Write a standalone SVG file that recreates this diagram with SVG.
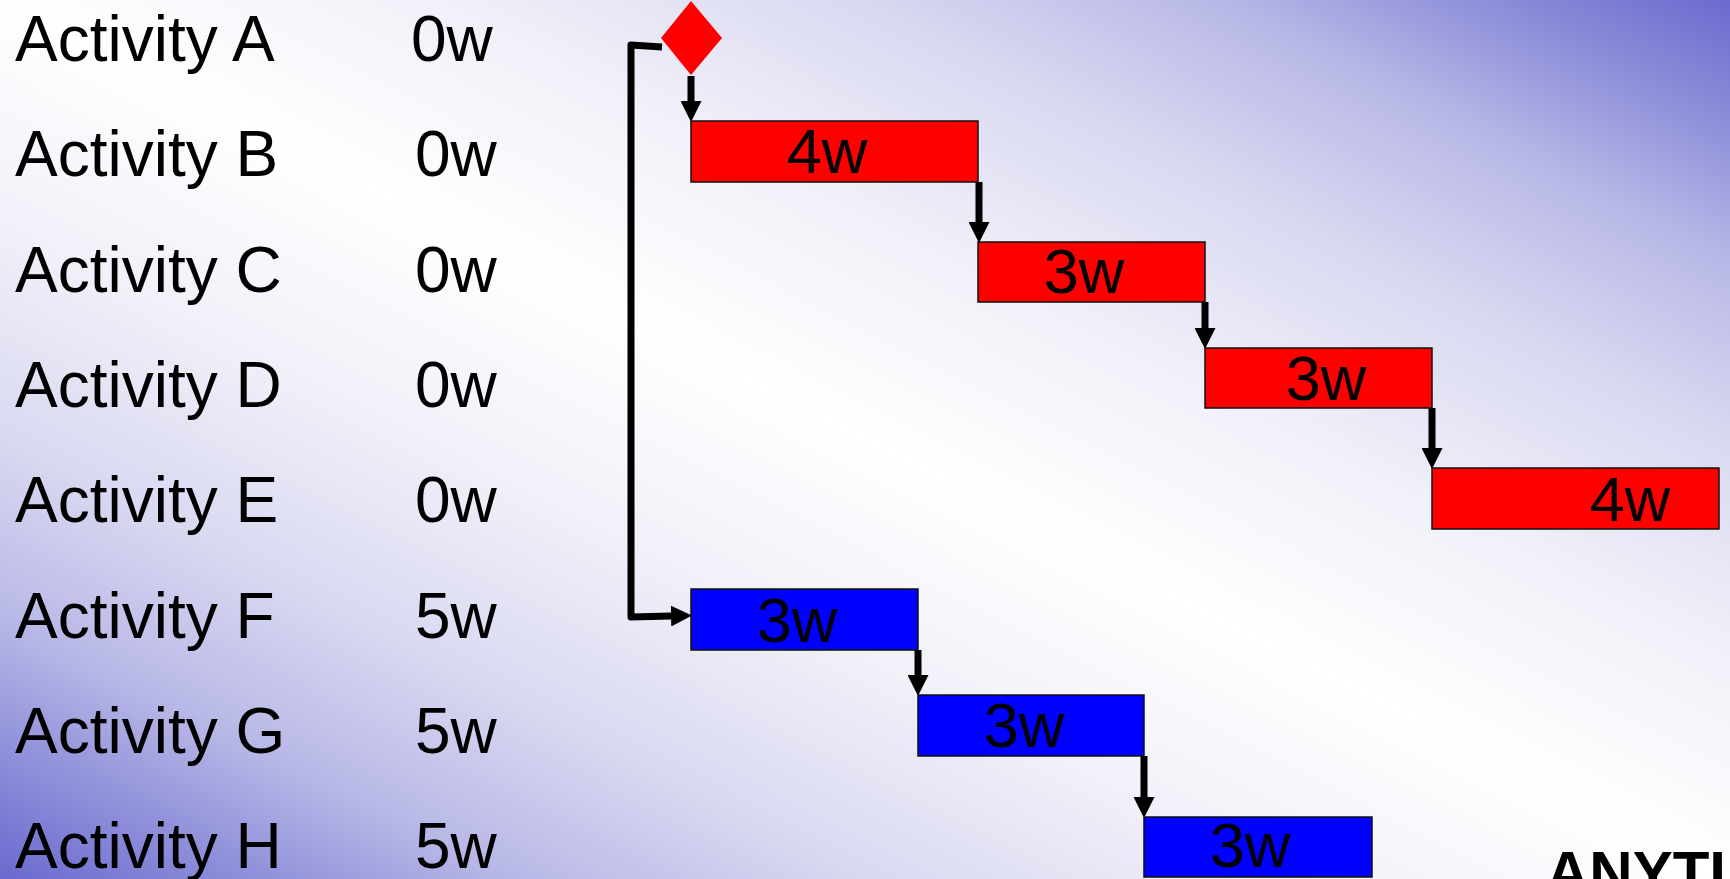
<svg xmlns="http://www.w3.org/2000/svg" width="1730" height="879" viewBox="0 0 1730 879">
  <defs>
    <!-- diagonal backdrop: blue in the top-right and bottom-left corners, white along the middle -->
    <linearGradient id="bg" x1="0" y1="1" x2="1" y2="0">
      <stop offset="0" stop-color="#6a6acf"/>
      <stop offset="0.08" stop-color="#9292db"/>
      <stop offset="0.15" stop-color="#b8b8e7"/>
      <stop offset="0.25" stop-color="#d8d8f1"/>
      <stop offset="0.37" stop-color="#f0f0f9"/>
      <stop offset="0.5" stop-color="#ffffff"/>
      <stop offset="0.63" stop-color="#f0f0f9"/>
      <stop offset="0.75" stop-color="#d8d8f1"/>
      <stop offset="0.85" stop-color="#b8b8e7"/>
      <stop offset="0.92" stop-color="#9292db"/>
      <stop offset="1" stop-color="#6a6acf"/>
    </linearGradient>
    <marker id="head" viewBox="0 0 20 20" markerWidth="21" markerHeight="21" refX="0" refY="10" orient="auto" markerUnits="userSpaceOnUse">
      <path d="M0,0 L20,10 L0,20 z" fill="#000"/>
    </marker>
    <style>
      .lbl { font-family: "Liberation Sans", Arial, sans-serif; font-size: 64px; fill: #000; }
      .bar-label { font-family: "Liberation Sans", Arial, sans-serif; font-size: 63px; fill: #000; text-anchor: middle; }
      .crit { fill: #ff0000; stroke: #111; stroke-width: 1.5; }
      .norm { fill: #0000ff; stroke: #111; stroke-width: 1.5; }
      .link { fill: none; stroke: #000; stroke-width: 7; stroke-linejoin: round; marker-end: url(#head); }
      .banner { font-family: "Liberation Sans", Arial, sans-serif; font-size: 60px; font-weight: bold; fill: #000; }
    </style>
  </defs>

  <rect x="0" y="0" width="1730" height="879" fill="url(#bg)"/>

  <!-- activity names and float -->
  <g id="labels" class="lbl">
    <text x="15" y="61">Activity A</text><text x="411" y="61">0w</text>
    <text x="15" y="176">Activity B</text><text x="415" y="176">0w</text>
    <text x="15" y="292">Activity C</text><text x="415" y="292">0w</text>
    <text x="15" y="407">Activity D</text><text x="415" y="407">0w</text>
    <text x="15" y="522">Activity E</text><text x="415" y="522">0w</text>
    <text x="15" y="638">Activity F</text><text x="415" y="638">5w</text>
    <text x="15" y="753">Activity G</text><text x="415" y="753">5w</text>
    <text x="15" y="868">Activity H</text><text x="415" y="868">5w</text>
  </g>

  <!-- dependency arrows -->
  <g id="connectors" class="link">
    <path d="M691,76 L691,101"/>
    <path d="M979,182 L979,222"/>
    <path d="M1205,302 L1205,328"/>
    <path d="M1432,408 L1432,448"/>
    <path d="M662,47 L631,45 L631,617 L671,616"/>
    <path d="M918,650 L918,675"/>
    <path d="M1144,756 L1144,797"/>
  </g>

  <!-- milestone A -->
  <g id="milestone-a">
    <polygon points="691,1 722,38 691,75 661,38" fill="#ff0000"/>
  </g>

  <!-- critical path -->
  <g id="task-b">
    <rect class="crit" x="691" y="121" width="287" height="61"/>
    <text class="bar-label" x="827" y="173">4w</text>
  </g>
  <g id="task-c">
    <rect class="crit" x="978" y="242" width="227" height="60"/>
    <text class="bar-label" x="1084" y="293">3w</text>
  </g>
  <g id="task-d">
    <rect class="crit" x="1205" y="348" width="227" height="60"/>
    <text class="bar-label" x="1326" y="400">3w</text>
  </g>
  <g id="task-e">
    <rect class="crit" x="1432" y="468" width="287" height="61"/>
    <text class="bar-label" x="1630" y="521">4w</text>
  </g>

  <!-- branch with float -->
  <g id="task-f">
    <rect class="norm" x="691" y="589" width="227" height="61"/>
    <text class="bar-label" x="797" y="642">3w</text>
  </g>
  <g id="task-g">
    <rect class="norm" x="918" y="695" width="226" height="61"/>
    <text class="bar-label" x="1024" y="747">3w</text>
  </g>
  <g id="task-h">
    <rect class="norm" x="1144" y="817" width="228" height="60"/>
    <text class="bar-label" x="1250" y="867">3w</text>
  </g>

  <text class="banner" x="1546" y="893">ANYTI</text>
</svg>
